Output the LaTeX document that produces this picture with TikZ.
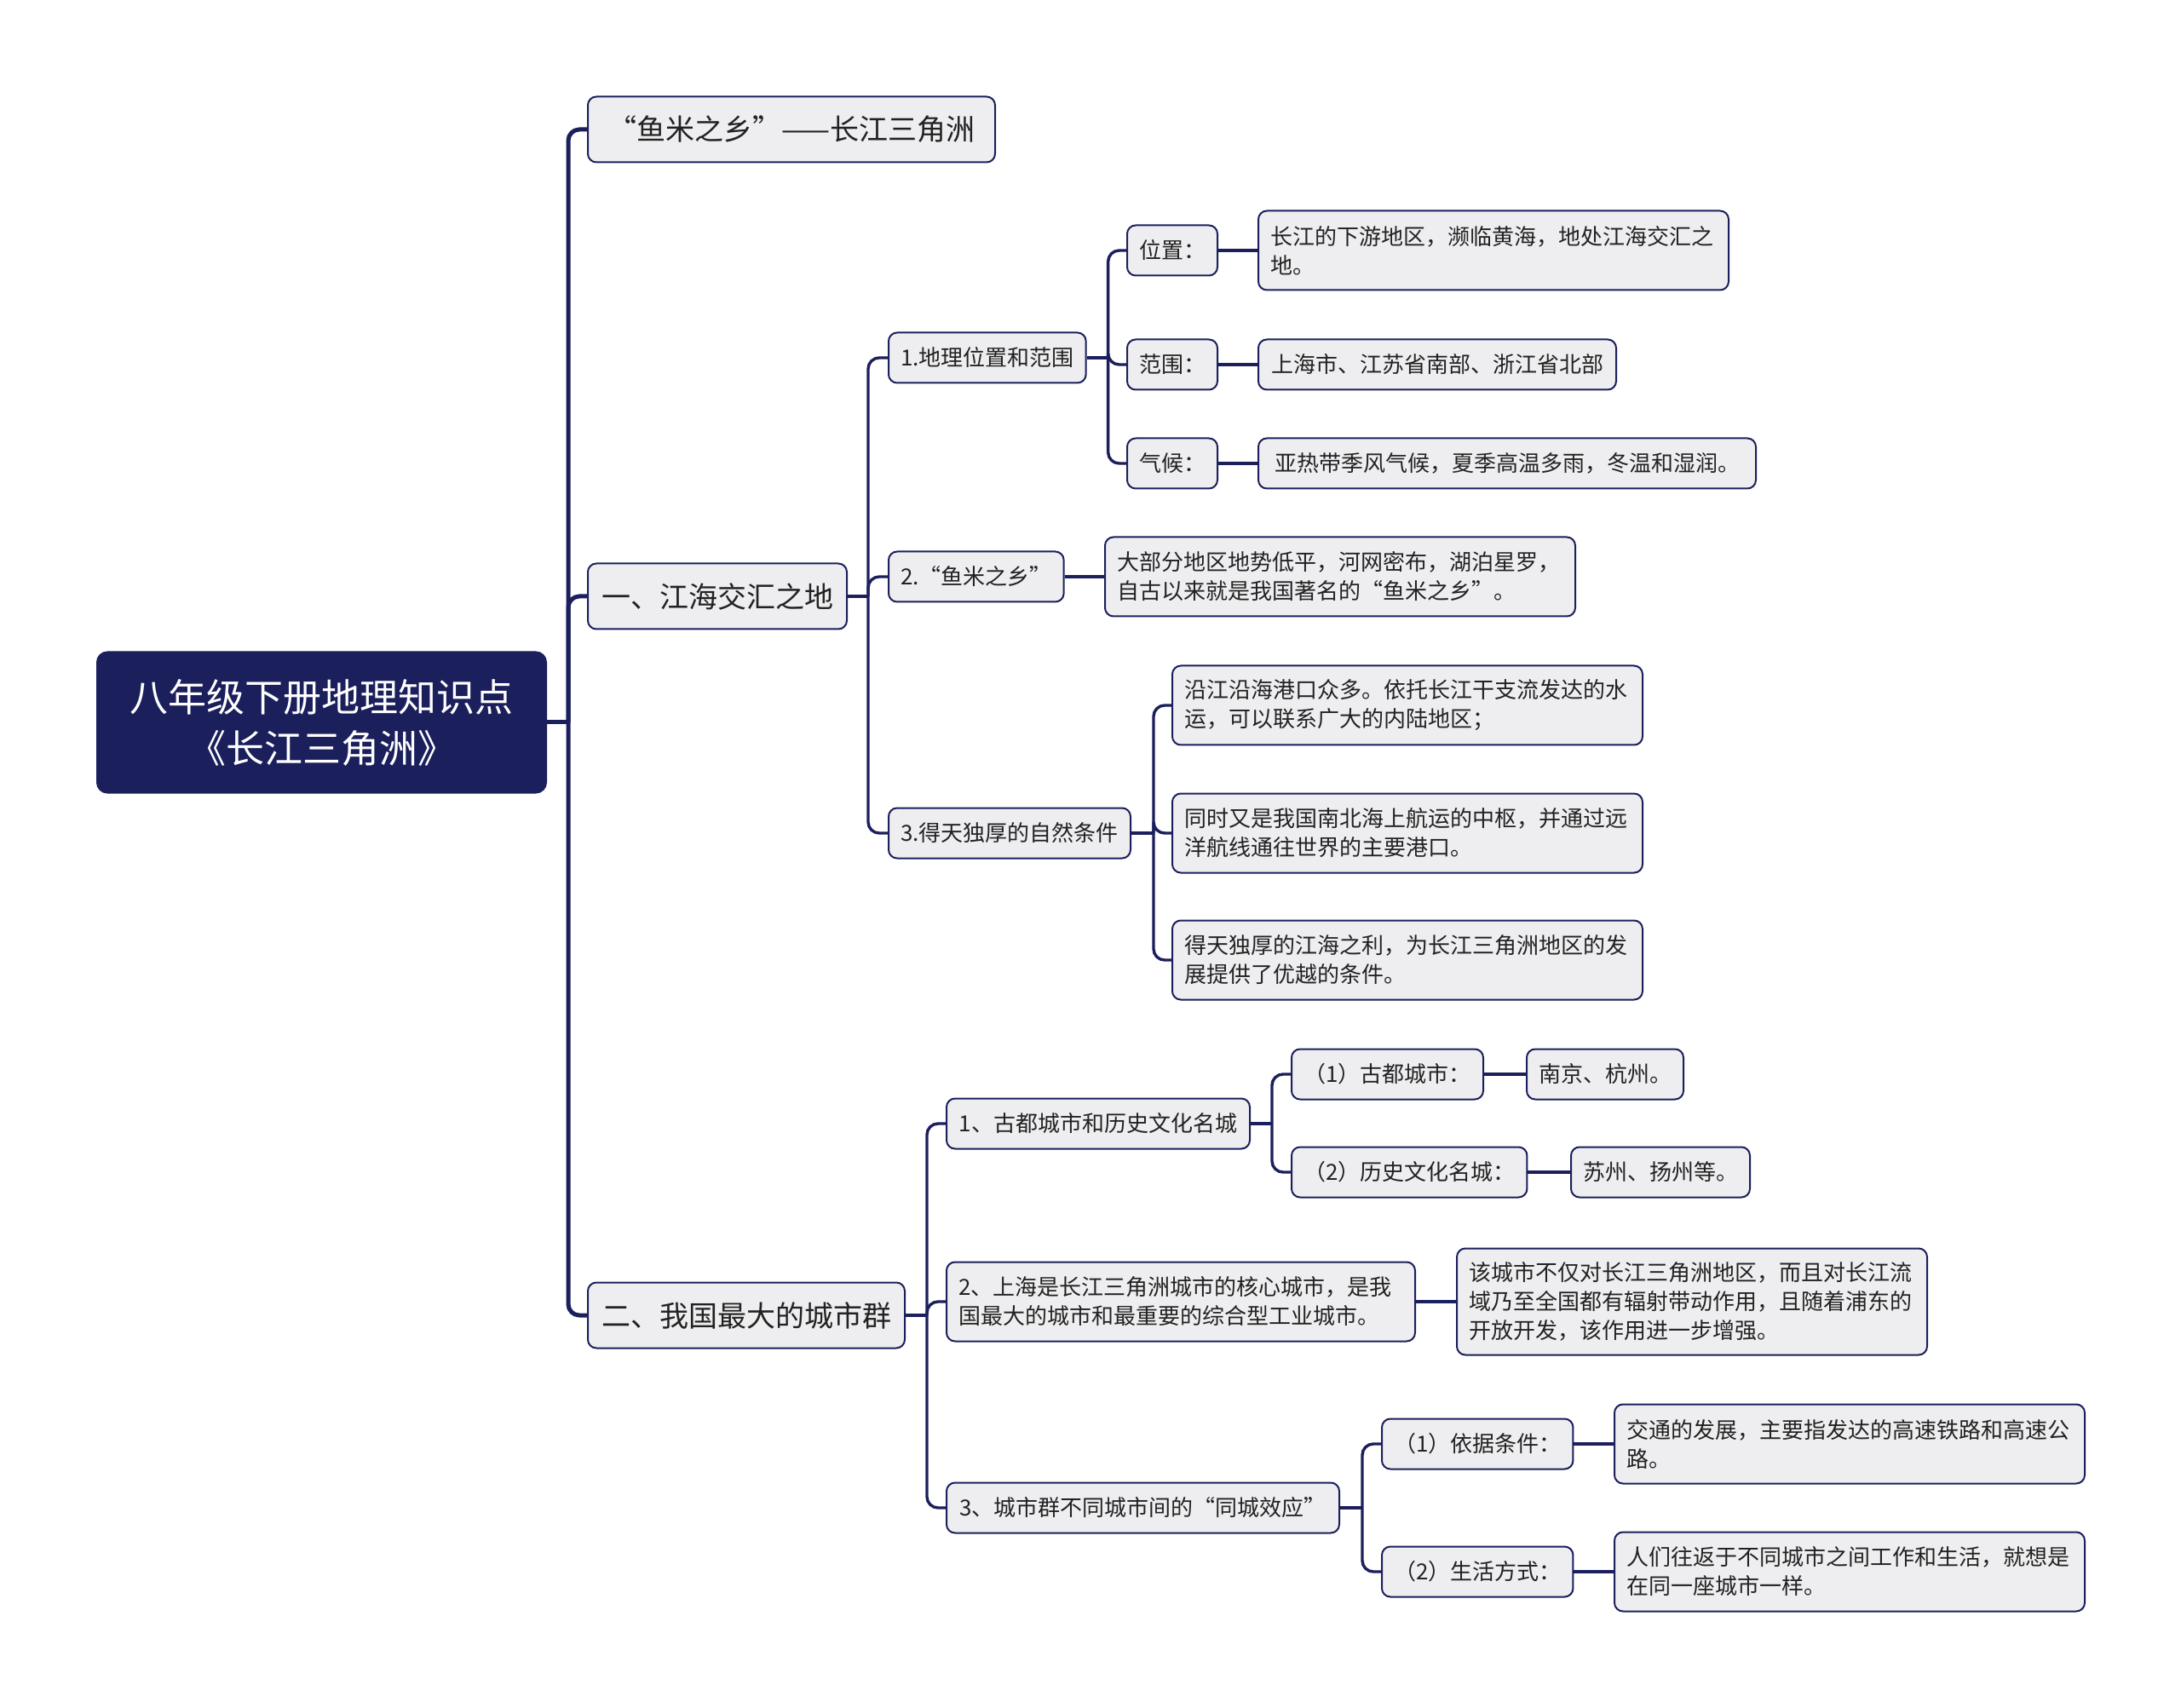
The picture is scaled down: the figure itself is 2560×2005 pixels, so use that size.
\documentclass[tikz,border=0pt]{standalone}
\usepackage{fontspec}
\setmainfont{Noto Sans CJK SC}
\XeTeXlinebreaklocale "zh"
\definecolor{mapnavy}{RGB}{27,31,92}
\definecolor{boxgray}{RGB}{238,238,240}
\definecolor{inkgray}{RGB}{34,34,34}

\begin{document}
\begin{tikzpicture}[
    x=0.5pt, y=-0.5pt,
    box/.style={
        draw=mapnavy, line width=1pt, fill=boxgray, rounded corners=5pt,
        anchor=west, inner xsep=7pt, inner ysep=0pt, text=inkgray,
        font=\fontsize{13}{17}\selectfont
    },
    rootbox/.style={box, draw=mapnavy, fill=mapnavy, text=white, rounded corners=6pt,
                    align=center, minimum width=263.5pt, minimum height=82.5pt,
                    font=\fontsize{22.5}{30}\selectfont},
    topic/.style={box, minimum height=38.5pt, font=\fontsize{17}{22}\selectfont},
    sub/.style={box, minimum height=29.5pt},
    leaf/.style={box, align=left, minimum height=46.5pt},
    link/.style={draw=mapnavy, line width=1.7pt, rounded corners=6.5pt},
    trunk/.style={link, line width=2.5pt}
]
\fill[white] (0,0) rectangle (2560,2005);
\useasboundingbox (0,0) rectangle (2560,2005);

% ===== Root =====
\node[rootbox] (root) at (113,848) {八年级下册地理知识点\\《长江三角洲》};

% ===== Level 1 =====
\node[topic, minimum width=239pt] (A) at (689,152) {“鱼米之乡”——长江三角洲};
\node[topic, minimum width=152pt] (B) at (689,700) {一、江海交汇之地};
\node[topic, minimum width=186pt] (C) at (689,1544) {二、我国最大的城市群};

% ===== 一、江海交汇之地 =====
\node[sub, minimum width=115.5pt] (B1) at (1042,420) {1.地理位置和范围};
\node[sub, minimum width=102pt]   (B2) at (1042,677) {2.“鱼米之乡”};
\node[sub, minimum width=142pt]   (B3) at (1042,978) {3.得天独厚的自然条件};

\node[sub, minimum width=51.5pt] (B1a) at (1322,294) {位置：};
\node[sub, minimum width=51.5pt] (B1b) at (1322,428) {范围：};
\node[sub, minimum width=51.5pt] (B1c) at (1322,544) {气候：};

\node[leaf, text width=262pt] (L1a) at (1476,294) {长江的下游地区，濒临黄海，地处江海交汇之\\地。};
\node[sub, minimum width=210pt] (L1b) at (1476,428) {上海市、江苏省南部、浙江省北部};
\node[sub, minimum width=292pt] (L1c) at (1476,544) {亚热带季风气候，夏季高温多雨，冬温和湿润。};

\node[leaf, text width=262pt] (L2) at (1296,677) {大部分地区地势低平，河网密布，湖泊星罗，\\自古以来就是我国著名的“鱼米之乡”。};

\node[leaf, text width=262pt] (L3a) at (1375,828) {沿江沿海港口众多。依托长江干支流发达的水\\运，可以联系广大的内陆地区；};
\node[leaf, text width=262pt] (L3b) at (1375,978) {同时又是我国南北海上航运的中枢，并通过远\\洋航线通往世界的主要港口。};
\node[leaf, text width=262pt] (L3c) at (1375,1127) {得天独厚的江海之利，为长江三角洲地区的发\\展提供了优越的条件。};

% ===== 二、我国最大的城市群 =====
\node[sub, minimum width=178pt]   (C1) at (1110,1319) {1、古都城市和历史文化名城};
\node[leaf, text width=261pt]     (C2) at (1110,1528) {2、上海是长江三角洲城市的核心城市，是我\\国最大的城市和最重要的综合型工业城市。};
\node[sub, minimum width=230.5pt] (C3) at (1110,1770) {3、城市群不同城市间的“同城效应”};

\node[sub, minimum width=112.5pt] (C1a) at (1515,1261) {（1）古都城市：};
\node[sub, minimum width=138pt]   (C1b) at (1515,1376) {（2）历史文化名城：};
\node[sub, minimum width=90pt]    (K1a) at (1791,1261) {南京、杭州。};
\node[sub, minimum width=104pt]   (K1b) at (1843,1376) {苏州、扬州等。};

\node[leaf, text width=262pt, minimum height=62.5pt] (K2) at (1709,1528) {该城市不仅对长江三角洲地区，而且对长江流\\域乃至全国都有辐射带动作用，且随着浦东的\\开放开发，该作用进一步增强。};

\node[sub, minimum width=112pt] (C3a) at (1621,1695) {（1）依据条件：};
\node[sub, minimum width=112pt] (C3b) at (1621,1845) {（2）生活方式：};
\node[leaf, text width=262pt] (K3a) at (1894,1695) {交通的发展，主要指发达的高速铁路和高速公\\路。};
\node[leaf, text width=262pt] (K3b) at (1894,1845) {人们往返于不同城市之间工作和生活，就想是\\在同一座城市一样。};

% ===== Connectors =====
\draw[trunk] (root.east) -- ++(25,0) coordinate (rj);
\foreach \c in {A,B,C} \draw[trunk] (rj) |- (\c.west);

\draw[link] (B.east) -- ++(24,0) coordinate (bj);
\foreach \c in {B1,B2,B3} \draw[link] (bj) |- (\c.west);

\draw[link] (B1.east) -- ++(25,0) coordinate (b1j);
\foreach \c in {B1a,B1b,B1c} \draw[link] (b1j) |- (\c.west);
\draw[link] (B1a) -- (L1a);
\draw[link] (B1b) -- (L1b);
\draw[link] (B1c) -- (L1c);

\draw[link] (B2) -- (L2);

\draw[link] (B3.east) -- ++(26,0) coordinate (b3j);
\foreach \c in {L3a,L3b,L3c} \draw[link] (b3j) |- (\c.west);

\draw[link] (C.east) -- ++(25,0) coordinate (cj);
\foreach \c in {C1,C2,C3} \draw[link] (cj) |- (\c.west);

\draw[link] (C1.east) -- ++(25,0) coordinate (c1j);
\foreach \c in {C1a,C1b} \draw[link] (c1j) |- (\c.west);
\draw[link] (C1a) -- (K1a);
\draw[link] (C1b) -- (K1b);

\draw[link] (C2) -- (K2);

\draw[link] (C3.east) -- ++(26,0) coordinate (c3j);
\foreach \c in {C3a,C3b} \draw[link] (c3j) |- (\c.west);
\draw[link] (C3a) -- (K3a);
\draw[link] (C3b) -- (K3b);

\end{tikzpicture}
\end{document}
